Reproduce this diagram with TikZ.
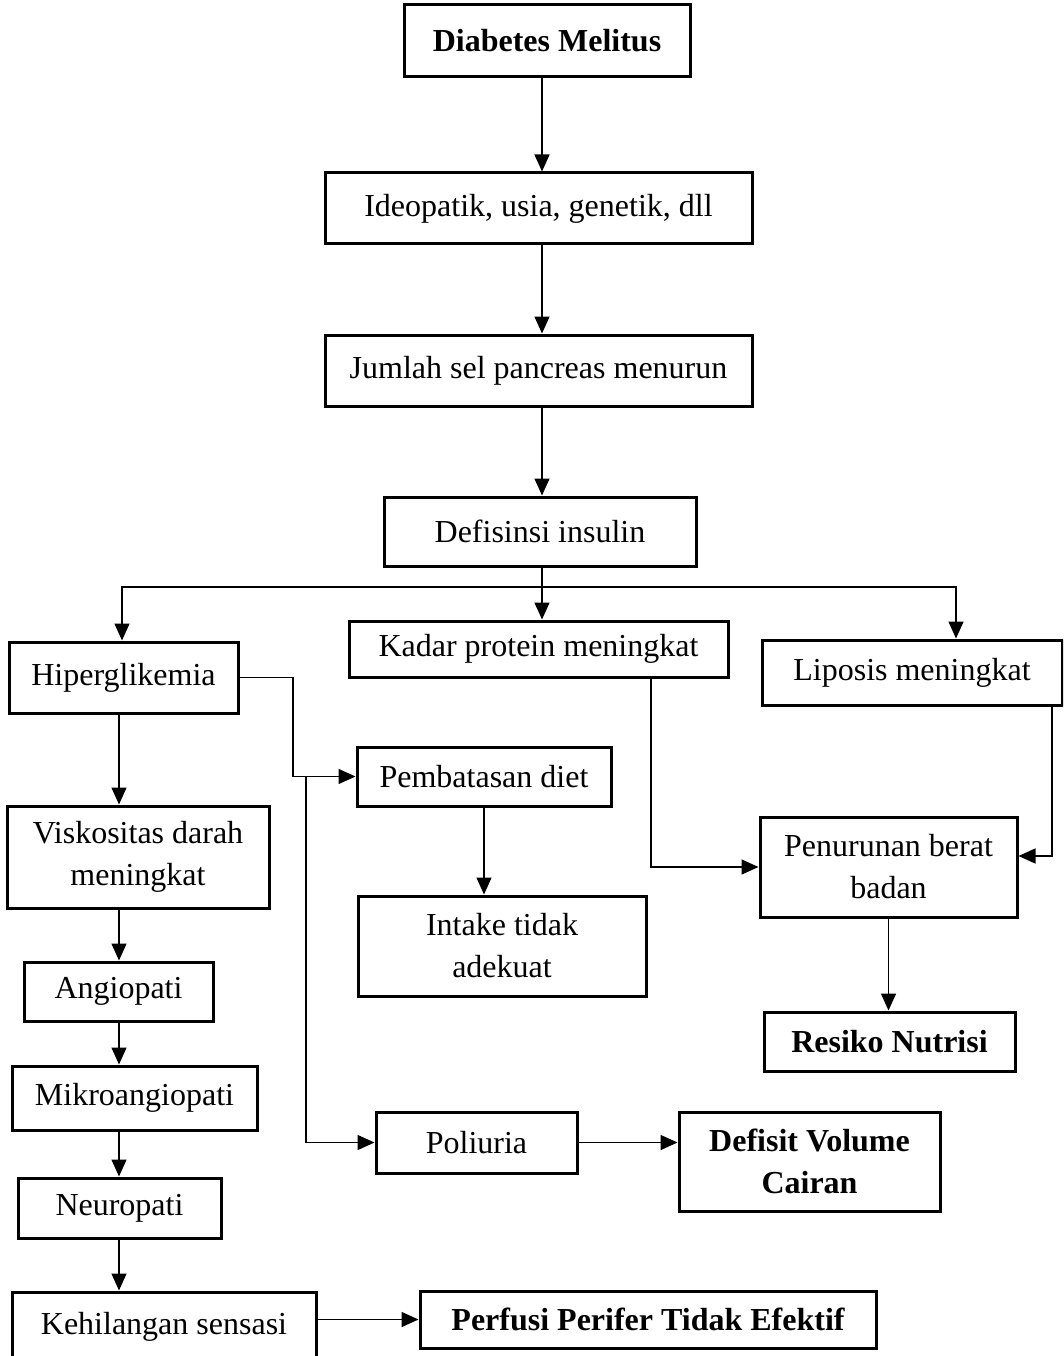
\documentclass[tikz,border=0pt]{standalone}
\usepackage{fontspec}
\setmainfont{Liberation Serif}
\usetikzlibrary{arrows.meta,calc}
\begin{document}
\begin{tikzpicture}[x=1pt,y=-1pt,
  box/.style={draw,line width=3pt,rectangle,align=center,inner sep=0pt,
    font=\fontsize{32}{42}\selectfont},
  arr/.style={line width=1.4pt,-{Triangle[length=17pt,width=15pt]}},
  ln/.style={line width=1.4pt}]
\useasboundingbox (0,0) rectangle (1063,1356);
\clip (0,0) rectangle (1063,1356);
\node[box,minimum width=286pt,minimum height=72pt,font=\fontsize{32}{42}\selectfont\bfseries] (dm) at (547,41) {Diabetes Melitus};
\node[box,minimum width=427pt,minimum height=71pt] (ide) at (538.5,208.5) {Ideopatik, usia, genetik, dll};
\node[box,minimum width=427pt,minimum height=71pt] (jum) at (538.5,370.5) {Jumlah sel pancreas menurun};
\node[box,minimum width=312pt,minimum height=69pt] (def) at (540,531.5) {Defisinsi insulin};
\node[box,minimum width=229pt,minimum height=71pt] (hip) at (123.5,677.5) {Hiperglikemia};
\node[box,minimum width=379pt,minimum height=56pt] (kad) at (538.5,649) {Kadar protein meningkat};
\node[box,minimum width=300pt,minimum height=65pt] (lip) at (912,672.5) {Liposis meningkat};
\node[box,minimum width=254pt,minimum height=59pt] (pem) at (484,776.5) {Pembatasan diet};
\node[box,minimum width=262pt,minimum height=102pt] (vis) at (138,857) {Viskositas darah\\meningkat};
\node[box,minimum width=288pt,minimum height=100pt] (int) at (502,946) {Intake tidak\\adekuat};
\node[box,minimum width=257pt,minimum height=100pt] (pen) at (888.5,867) {Penurunan berat\\badan};
\node[box,minimum width=251pt,minimum height=59pt,font=\fontsize{32}{42}\selectfont\bfseries] (res) at (889.5,1041.5) {Resiko Nutrisi};
\node[box,minimum width=189pt,minimum height=59pt] (ang) at (118.5,991.5) {Angiopati};
\node[box,minimum width=245pt,minimum height=64pt] (mik) at (134.5,1098) {Mikroangiopati};
\node[box,minimum width=203pt,minimum height=60pt] (neu) at (119.5,1208) {Neuropati};
\node[box,minimum width=304pt,minimum height=68pt,text depth=6pt] (keh) at (164,1326) {Kehilangan sensasi};
\node[box,minimum width=456pt,minimum height=57pt,font=\fontsize{32}{42}\selectfont\bfseries] (per) at (648,1319.5) {Perfusi Perifer Tidak Efektif};
\node[box,minimum width=201pt,minimum height=61pt] (pol) at (476.5,1142.5) {Poliuria};
\node[box,minimum width=261pt,minimum height=99pt,font=\fontsize{32}{42}\selectfont\bfseries] (dv) at (809.5,1161.5) {Defisit Volume\\Cairan};
% main chain
\coordinate (cx) at (542,0);
\draw[arr] (cx |- dm.south) -- (cx |- ide.north);
\draw[arr] (cx |- ide.south) -- (cx |- jum.north);
\draw[arr] (cx |- jum.south) -- (cx |- def.north);
% branch
\coordinate (br) at (542,587);
\coordinate (lx) at (122,0);
\coordinate (rx) at (956,0);
\draw[ln] (cx |- def.south) -- (br);
\draw[arr] (br) -- (cx |- kad.north);
\draw[arr] (br) -- (lx |- br) -- (lx |- hip.north);
\draw[arr] (br) -- (rx |- br) -- (rx |- lip.north);
% hiperglikemia branches
\draw[arr] (hip.east) -- (293,677.5) |- (pem.west);
\coordinate (jx) at (306,0);
\draw[arr] (jx |- pem.west) |- (pol.west);
\draw[arr] (pol.east) -- (pol.east -| dv.west);
\draw[arr] (pem.south) -- (pem.south |- int.north);
% weight loss
\coordinate (kx) at (651,0);
\draw[arr] (kx |- kad.south) |- (pen.west);
\coordinate (qx) at (1052,0);
\coordinate (pr) at ($(pen.east)+(0,-11)$);
\draw[arr] (qx |- lip.south) |- (pr);
\draw[arr] (pen.south) -- (pen.south |- res.north);
% left chain
\coordinate (vx) at (119,0);
\draw[arr] (vx |- hip.south) -- (vx |- vis.north);
\draw[arr] (vx |- vis.south) -- (vx |- ang.north);
\draw[arr] (vx |- ang.south) -- (vx |- mik.north);
\draw[arr] (vx |- mik.south) -- (vx |- neu.north);
\draw[arr] (vx |- neu.south) -- (vx |- keh.north);
\draw[arr] (per.west -| keh.east) -- (per.west);
\end{tikzpicture}
\end{document}
